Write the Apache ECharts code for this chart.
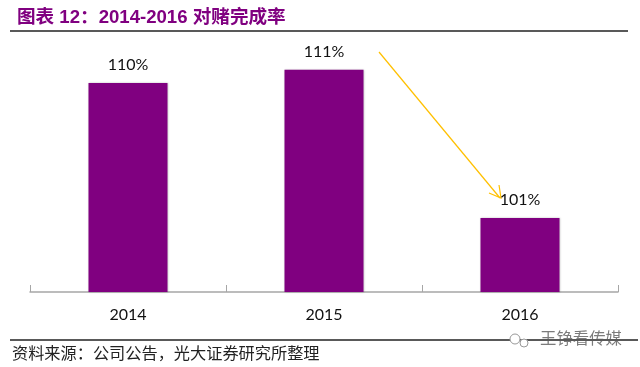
<!DOCTYPE html>
<html>
<head>
<meta charset="utf-8">
<title>对赌完成率</title>
<script src="https://cdn.jsdelivr.net/npm/echarts@6/dist/echarts.min.js"></script>
<style>
  html, body { margin: 0; padding: 0; background: #fff; }
  #chart { width: 640px; height: 367px; }
</style>
</head>
<body>
<div id="chart"></div>
<script>
  var years = ['2014', '2015', '2016'];
  // bar heights are not quite what the rounded labels say, so keep one decimal
  var rates = [110.1, 111.0, 101.0];

  var titleText = '图表 12：2014-2016 对赌完成率';
  var sourceText = '资料来源：公司公告，光大证券研究所整理';
  var watermark = '王铮看传媒';

  var purple = '#800080';
  var cjk = '"Liberation Sans", "Noto Sans CJK SC", sans-serif';

  var myChart = echarts.init(document.getElementById('chart'), null, { renderer: 'canvas' });
  myChart.setOption({
    animation: false,
    backgroundColor: '#fff',
    title: {
      text: titleText,
      left: 12,
      top: 4,
      textStyle: { color: purple, fontSize: 18.6, fontWeight: 'bold', fontFamily: cjk }
    },
    grid: { left: 30, right: 22, top: 40, bottom: 75 },
    xAxis: {
      type: 'category',
      data: years,
      axisLine: { lineStyle: { color: '#a6a6a6', width: 1.5 } },
      axisTick: { show: true, inside: true, length: 7, lineStyle: { color: '#a6a6a6' } },
      axisLabel: { color: '#111', fontSize: 16, margin: 15, fontFamily: 'Lato' }
    },
    yAxis: { type: 'value', min: 96, max: 113, show: false },
    series: [{
      type: 'bar',
      data: rates,
      barWidth: 79,
      itemStyle: { color: purple, shadowColor: 'rgba(0,0,0,0.25)', shadowBlur: 2 },
      label: {
        show: true,
        position: 'top',
        distance: 10,
        color: '#111',
        fontSize: 16,
        fontFamily: 'Lato',
        formatter: function (p) { return Math.round(p.value) + '%'; }
      }
    }],
    graphic: [
      // rules under the title and above the source
      { type: 'line', shape: { x1: 10, y1: 31, x2: 628, y2: 31 }, style: { stroke: '#222', lineWidth: 1.5 } },
      { type: 'line', shape: { x1: 10, y1: 340, x2: 638, y2: 340 }, style: { stroke: '#222', lineWidth: 1.5 } },
      { type: 'text', left: 12, top: 345, style: { text: sourceText, fill: '#222', font: '16.2px "Noto Sans CJK SC"' } },
      // arrow from 2015 down to 2016
      { type: 'line', shape: { x1: 379, y1: 52, x2: 500, y2: 198 }, style: { stroke: '#ffc000', lineWidth: 1.2 } },
      { type: 'polyline', shape: { points: [[489, 193], [501, 198], [499, 185]] }, style: { stroke: '#ffc000', fill: null, lineWidth: 1.2 } },
      // watermark
      { type: 'circle', shape: { cx: 515, cy: 339, r: 5 }, style: { fill: '#fff', stroke: '#999', lineWidth: 1 } },
      { type: 'circle', shape: { cx: 524, cy: 343, r: 4 }, style: { fill: '#fff', stroke: '#999', lineWidth: 1 } },
      { type: 'text', left: 540, top: 330, style: { text: watermark, fill: 'rgba(90,90,90,0.8)', font: '16.4px "Noto Sans CJK SC"' } }
    ]
  });
</script>
</body>
</html>
